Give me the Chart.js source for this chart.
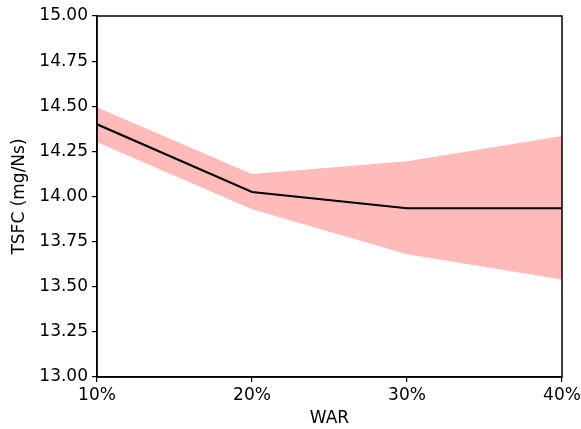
<!DOCTYPE html>
<html>
<head>
<meta charset="utf-8">
<script src="https://cdn.jsdelivr.net/npm/chart.js@4"></script>
<style>
  html, body { margin: 0; padding: 0; background: #fff; }
  #wrap { width: 581px; height: 429px; }
</style>
</head>
<body>
<div id="wrap"><canvas id="chart" width="581" height="429"></canvas></div>
<script>
// WAR levels (%)
const war = [10, 20, 30, 40];
// TSFC mean and uncertainty band (mg/Ns)
const tsfcMean = [14.40, 14.025, 13.935, 13.935];
const tsfcUpper = [14.495, 14.125, 14.195, 14.335];
const tsfcLower = [14.30, 13.93, 13.68, 13.54];
const yTicks = [13.00, 13.25, 13.50, 13.75, 14.00, 14.25, 14.50, 14.75, 15.00];

const toPoints = (vals) => war.map((x, i) => ({ x: x, y: vals[i] }));

// draws top/right spines
const frame = {
    id: 'frame',
    afterDraw(chart) {
        const { ctx, chartArea: a } = chart;
        ctx.save();
        ctx.strokeStyle = '#000';
        ctx.lineWidth = 1.5;
        ctx.strokeRect(a.left, a.top, a.right - a.left, a.bottom - a.top);
        ctx.restore();
    }
};

const font = { family: 'DejaVu Sans', size: 17 };

new Chart(document.getElementById('chart'), {
    type: 'line',
    data: {
        datasets: [
            {
                data: toPoints(tsfcUpper),
                borderWidth: 0,
                pointRadius: 0,
                backgroundColor: 'rgba(255, 0, 0, 0.27)',
                fill: '+1',
                tension: 0,
                order: 2
            },
            {
                data: toPoints(tsfcLower),
                borderWidth: 0,
                pointRadius: 0,
                fill: false,
                tension: 0,
                order: 2
            },
            {
                data: toPoints(tsfcMean),
                borderColor: '#000',
                borderWidth: 2.2,
                pointRadius: 0,
                fill: false,
                tension: 0,
                order: 0
            }
        ]
    },
    options: {
        responsive: false,
        animation: false,
        layout: { padding: { top: 16, right: 19, left: 0, bottom: 0 } },
        plugins: { legend: { display: false }, tooltip: { enabled: false } },
        scales: {
            x: {
                type: 'linear',
                min: 10,
                max: 40,
                afterBuildTicks: (axis) => { axis.ticks = war.map(v => ({ value: v })); },
                afterFit: (axis) => {
                    axis.height = 52;
                    axis.paddingLeft = 0;
                    axis.paddingRight = 0;
                },
                ticks: {
                    color: '#000',
                    font: font,
                    padding: 3,
                    maxRotation: 0,
                    callback: (v) => v + '%'
                },
                grid: { drawOnChartArea: false, drawTicks: true, tickLength: 5, color: '#000', lineWidth: 1.2 },
                border: { color: '#000', width: 1.5 },
                title: { display: true, text: 'WAR', color: '#000', font: font, padding: { top: 0, bottom: 0 } }
            },
            y: {
                min: 13,
                max: 15,
                afterBuildTicks: (axis) => { axis.ticks = yTicks.map(v => ({ value: v })); },
                afterFit: (axis) => {
                    axis.width = 97;
                    axis.paddingTop = 0;
                    axis.paddingBottom = 0;
                },
                ticks: {
                    color: '#000',
                    font: font,
                    padding: 4,
                    callback: (v) => v.toFixed(2)
                },
                grid: { drawOnChartArea: false, drawTicks: true, tickLength: 5, color: '#000', lineWidth: 1.2 },
                border: { color: '#000', width: 1.5 },
                title: { display: true, text: 'TSFC (mg/Ns)', color: '#000', font: font, padding: { top: 9, bottom: 0 } }
            }
        }
    },
    plugins: [frame]
});
</script>
</body>
</html>
